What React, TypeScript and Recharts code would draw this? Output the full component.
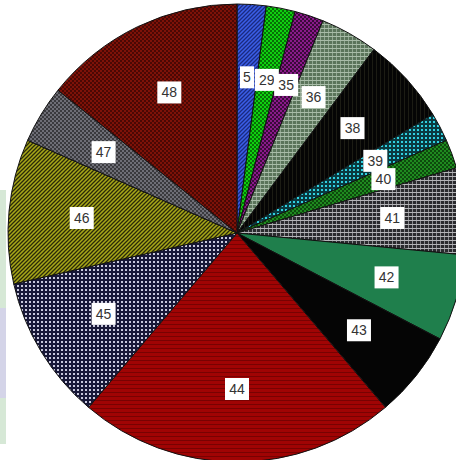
import React from "react";
import { Cell, Pie, PieChart } from "recharts";

// Patterned pie, one slice per group, labelled with the group number in a
// small white box. Slices run clockwise from 12 o'clock.

const groups = ["5", "29", "35", "36", "38", "39", "40", "41", "42", "43", "44", "45", "46", "47", "48"];
const counts = [1, 1, 1, 2, 3, 1, 1, 3, 3, 3, 11, 5, 5, 2, 7];

const data = groups.map((g, i) => ({ name: g, value: counts[i] }));

const RAD = Math.PI / 180;

// base colour + overlay colour + overlay kind, per slice
const fills: { id: string; base: string; ink: string; kind: string }[] = [
  { id: "p5", base: "#3a5ee8", ink: "#1a2a80", kind: "diag" },
  { id: "p29", base: "#10d010", ink: "#067006", kind: "check" },
  { id: "p35", base: "#8a1a8a", ink: "#3a0a3a", kind: "check" },
  { id: "p36", base: "#5a745a", ink: "#a8bca8", kind: "grid" },
  { id: "p38", base: "#050505", ink: "#1c1c14", kind: "vert" },
  { id: "p39", base: "#0a3a40", ink: "#30d0e0", kind: "dots" },
  { id: "p40", base: "#1f8a1f", ink: "#0d4a0d", kind: "check" },
  { id: "p41", base: "#2a2a2e", ink: "#b4b4b8", kind: "grid" },
  { id: "p42", base: "#1f7f4c", ink: "#1a7044", kind: "none" },
  { id: "p43", base: "#050505", ink: "#050505", kind: "none" },
  { id: "p44", base: "#a00404", ink: "#780202", kind: "horiz" },
  { id: "p45", base: "#181838", ink: "#c8c8dc", kind: "dots" },
  { id: "p46", base: "#a8a818", ink: "#2a2a08", kind: "diag" },
  { id: "p47", base: "#3a3a3e", ink: "#6e6e76", kind: "check" },
  { id: "p48", base: "#7e1208", ink: "#4a0804", kind: "check" },
];

function PatternDef({ id, base, ink, kind }: { id: string; base: string; ink: string; kind: string }) {
  return (
    <pattern id={id} patternUnits="userSpaceOnUse" width={4} height={4}>
      <rect width={4} height={4} fill={base} />
      {kind === "diag" && (
        <path d="M-1,1 l2,-2 M0,4 l4,-4 M3,5 l2,-2" stroke={ink} strokeWidth={1.3} />
      )}
      {kind === "check" && (
        <>
          <rect x={0} y={0} width={2} height={2} fill={ink} />
          <rect x={2} y={2} width={2} height={2} fill={ink} />
        </>
      )}
      {kind === "grid" && (
        <>
          <rect x={0} y={0} width={4} height={1} fill={ink} />
          <rect x={0} y={0} width={1} height={4} fill={ink} opacity={0.7} />
        </>
      )}
      {kind === "vert" && <rect x={0} y={0} width={1} height={4} fill={ink} />}
      {kind === "horiz" && <rect x={0} y={0} width={4} height={1} fill={ink} />}
      {kind === "dots" && <rect x={1} y={1} width={2} height={2} fill={ink} />}
    </pattern>
  );
}

function BoxLabel(props: any) {
  const { cx, cy, midAngle, name } = props;
  const r = 156;
  const x = cx + r * Math.cos(-midAngle * RAD);
  const y = cy + r * Math.sin(-midAngle * RAD);
  const w = String(name).length > 1 ? 24 : 14;
  return (
    <g>
      <rect x={x - w / 2} y={y - 11} width={w} height={22} fill="#ffffff" />
      <text
        x={x}
        y={y}
        textAnchor="middle"
        dominantBaseline="central"
        fill="#333333"
        fontSize={14}
        fontFamily="Liberation Sans, Arial, sans-serif"
      >
        {name}
      </text>
    </g>
  );
}

export default function App() {
  return (
    <div style={{ position: "absolute", left: 0, top: 0, width: 456, height: 460, background: "#ffffff", overflow: "hidden" }}>
      {/* pale side panels */}
      <div style={{ position: "absolute", left: 0, top: 190, width: 6, height: 118, background: "#d6e8d6" }} />
      <div style={{ position: "absolute", left: 0, top: 308, width: 6, height: 90, background: "#d4d4e8" }} />
      <div style={{ position: "absolute", left: 0, top: 398, width: 6, height: 46, background: "#d6e8d6" }} />
      <div style={{ position: "absolute", left: 0, top: 0 }}>
        <PieChart width={456} height={460} margin={{ top: 0, right: 0, bottom: 0, left: 0 }}>
          <defs>
            {fills.map((f) => (
              <PatternDef key={f.id} {...f} />
            ))}
          </defs>
          <Pie
            data={data}
            dataKey="value"
            nameKey="name"
            cx={237}
            cy={233}
            outerRadius={229}
            startAngle={90}
            endAngle={-270}
            stroke="#111111"
            strokeWidth={1}
            label={BoxLabel}
            labelLine={false}
            isAnimationActive={false}
          >
            {data.map((d, i) => (
              <Cell key={d.name} fill={`url(#${fills[i].id})`} />
            ))}
          </Pie>
        </PieChart>
      </div>
    </div>
  );
}
